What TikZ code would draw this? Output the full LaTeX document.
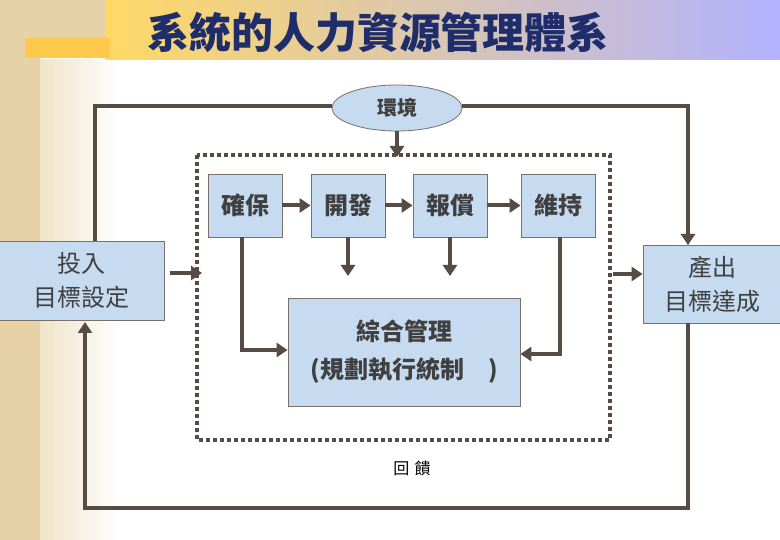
\documentclass[tikz,border=0pt]{standalone}
\usepackage{fontspec}
\newfontfamily\cjk{Noto Sans CJK TC}[BoldFont={* Black}]
\usetikzlibrary{shapes.geometric,arrows.meta}
\definecolor{ln}{HTML}{574C44}
\definecolor{bx}{HTML}{C6DAF0}
\definecolor{tt}{HTML}{1F2D6B}
\definecolor{tx}{HTML}{404040}
\definecolor{parch}{HTML}{E6D2A6}
\tikzset{
  box/.style={draw=ln!80,line width=0.8pt,fill=bx,font=\cjk\bfseries\fontsize{24}{28}\selectfont,text=tx,inner sep=0pt,align=center},
  con/.style={draw=ln,line width=4pt,-{Triangle[length=11pt,width=14pt]}},
  lin/.style={draw=ln,line width=4pt}
}
\begin{document}
\begin{tikzpicture}[x=1pt,y=-1pt]
\useasboundingbox (0,0) rectangle (780,540);
\fill[white] (0,0) rectangle (780,540);
\fill[parch] (0,0) rectangle (40,540);
\shade[left color=parch!60!white,right color=white] (40,60) rectangle (120,540);
\shade[left color=yellow!50!orange!60,right color=blue!30!white] (105,0) rectangle (780,60);
\fill[parch] (0,0) rectangle (105,38);
\fill[orange!60!yellow!70] (25,38) rectangle (110,58);
\fill[parch] (0,58) rectangle (40,540);
\node (title) at (378,32) {\cjk\bfseries\fontsize{42}{46}\selectfont\color{tt}系統的人力資源管理體系};
% env
\node[ellipse,draw=ln!80,line width=0.8pt,fill=bx,minimum width=130pt,minimum height=46pt,font=\cjk\bfseries\fontsize{20}{24}\selectfont,text=tx] (env) at (397,108) {環境};
\draw[ln,line width=4pt,dash pattern=on 4pt off 3pt] (197,155) rectangle (610,440);
\coordinate (dtop) at (397,157);
\node[box,minimum width=74pt,minimum height=63pt] (a) at (245,205.5) {確保};
\node[box,minimum width=74pt,minimum height=63pt] (b) at (348,205.5) {開發};
\node[box,minimum width=74pt,minimum height=63pt] (c) at (450,205.5) {報償};
\node[box,minimum width=74pt,minimum height=63pt] (d) at (558,205.5) {維持};
\node[box,minimum width=232pt,minimum height=108pt,font=\cjk\bfseries\fontsize{24}{38}\selectfont] (m) at (404,352) {綜合管理\\(規劃執行統制\quad)};
\node[box,minimum width=165pt,minimum height=79pt,font=\cjk\fontsize{24}{34}\selectfont] (in) at (82,280.5) {投入\\目標設定};
\node[box,minimum width=138pt,minimum height=78pt,font=\cjk\fontsize{24}{34}\selectfont] (out) at (712,284) {產出\\目標達成};
\node[font=\cjk\fontsize{16}{18}\selectfont,text=black] (fb) at (412,468) {回\,\,饋};
% connectors
\draw[con] (env.south) -- (dtop);
\draw[con] (a.east) -- (b.west);
\draw[con] (b.east) -- (c.west);
\draw[con] (c.east) -- (d.west);
\draw[con] (b.south) -- (348,276);
\draw[con] (c.south) -- (450,276);
\draw[con] (242,237) -- (242,350) -- (m.west |- 0,350);
\draw[con] (560,237) -- (560,354) -- (m.east |- 0,354);
\draw[lin] (95,241) -- (95,106) -- (env.west |- 0,106);
\draw[con] (env.east |- 0,106) -- (688,106) -- (688,245);
\coordinate (li) at (202,273);
\coordinate (lo) at (613,274);
\draw[con] (170,273) -- (li);
\draw[con] (lo) -- (out.west |- lo);
\draw[con] (688,323) -- (688,508) -- (85,508) -- (85,322);
\end{tikzpicture}
\end{document}
